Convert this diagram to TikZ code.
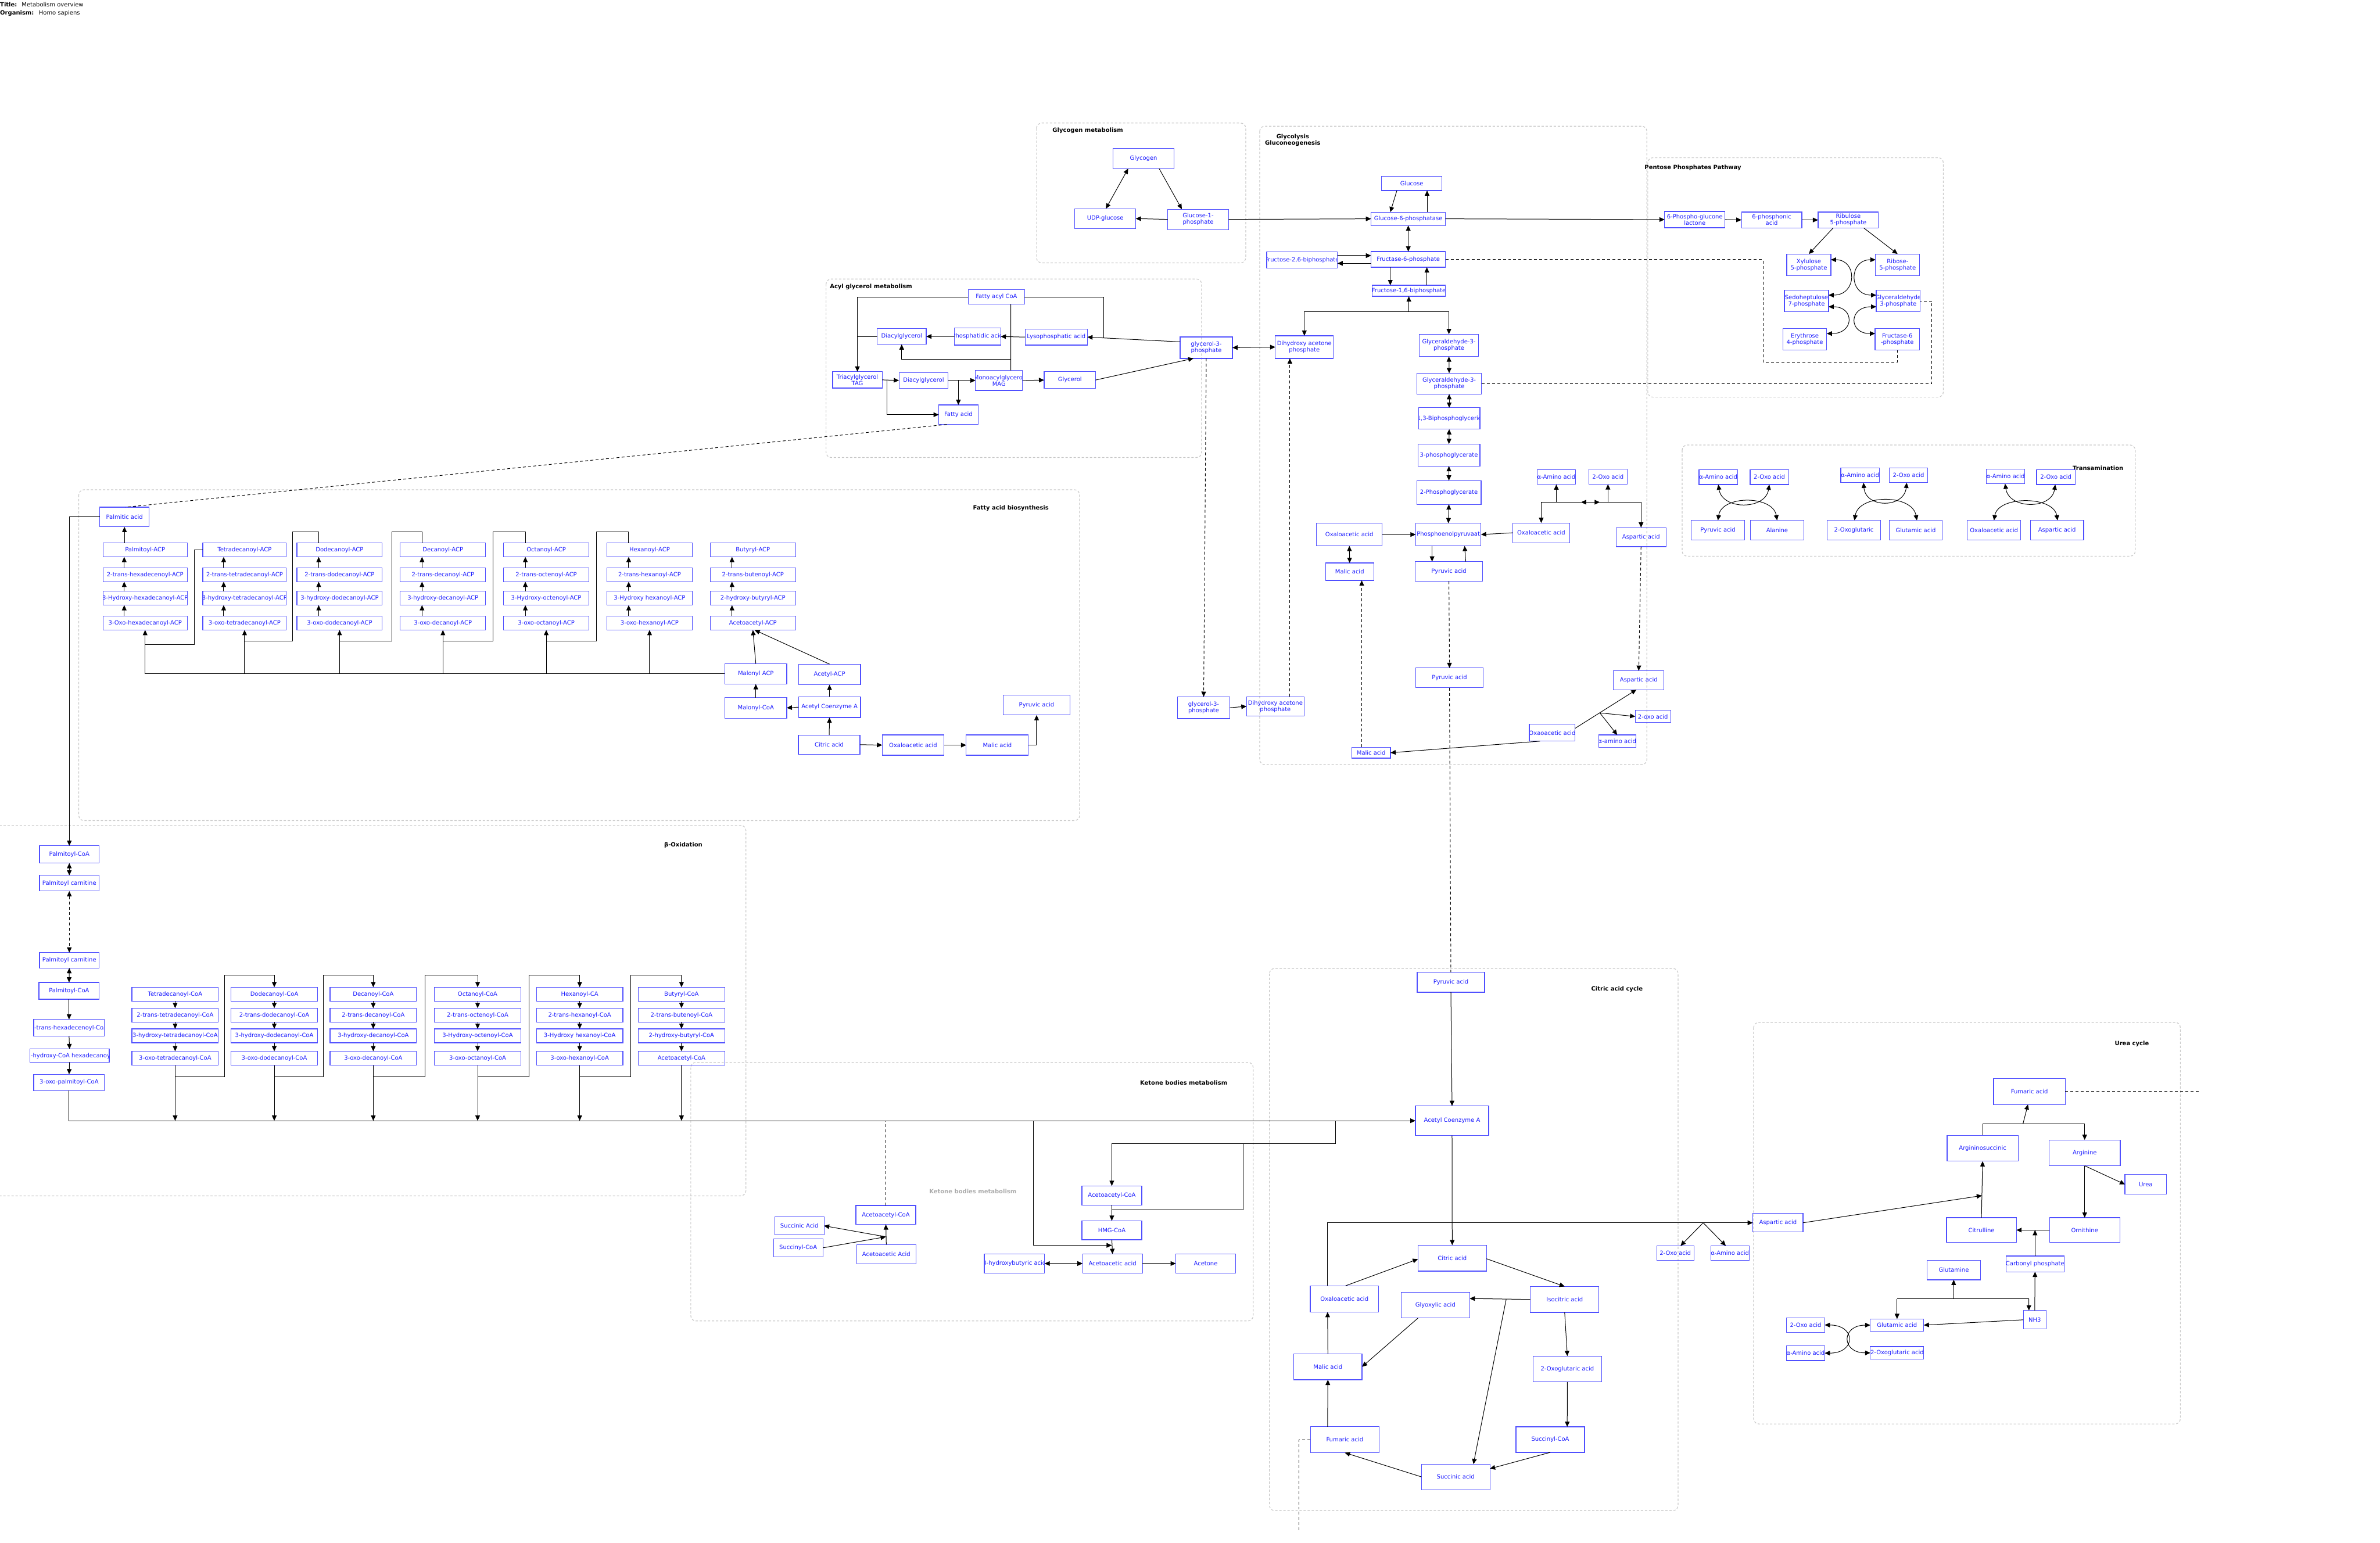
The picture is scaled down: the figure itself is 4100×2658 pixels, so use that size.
\documentclass[tikz,border=0pt]{standalone}
\usepackage{fontspec}
\setmainfont{DejaVu Sans}
\usetikzlibrary{arrows.meta}
\definecolor{bxb}{RGB}{80,80,255}
\definecolor{bxt}{RGB}{25,25,255}
\definecolor{grpc}{RGB}{200,200,200}
\tikzset{
 bx/.style={draw=bxb, line width=1.2pt, inner sep=0pt, outer sep=0pt},
 bxtxt/.style={text=bxt, font=\fontsize{10}{11}\selectfont, align=center, inner sep=0pt},
 grp/.style={draw=grpc, line width=1.2pt, dash pattern=on 4pt off 3pt, rounded corners=9pt},
 ttl/.style={font=\bfseries\fontsize{10}{11}\selectfont, inner sep=0pt, align=center},
 lk/.style={line width=1pt, draw=black},
 arr/.style={-{Triangle[length=9pt,width=8pt]}},
 darr/.style={{Triangle[length=9pt,width=8pt]}-{Triangle[length=9pt,width=8pt]}},
 dsh/.style={dash pattern=on 5pt off 4pt},
}
\newcommand{\bx}[6]{\node[bx, minimum width=#4, minimum height=#5, path picture={\node[bxtxt] at (path picture bounding box.center) {#6};}] (#1) at (#2,#3) {};}
\begin{document}
\begin{tikzpicture}[x=1pt,y=-1pt]
\useasboundingbox (0,0) rectangle (4100,2658);
\clip (0,0) rectangle (4100,2658);
% header
\node[anchor=west, inner sep=0pt, font=\fontsize{10}{11}\selectfont] (hdr1) at (0,7.5) {\textbf{Title:}\hspace{8pt}Metabolism overview};
\node[anchor=west, inner sep=0pt, font=\fontsize{10}{11}\selectfont] (hdr2) at (0,22.7) {\textbf{Organism:}\hspace{8.5pt}Homo sapiens};
% group boxes
\draw[grp] (1785.6,212) rectangle (2146,453);
\draw[grp] (2170,217.4) rectangle (2837,1317.5);
\draw[grp] (2838.6,271.7) rectangle (3347.7,684.3);
\draw[grp] (1423,480.7) rectangle (2070,788.3);
\draw[grp] (135.7,843.8) rectangle (1859.8,1413.9);
\draw[grp] (2897.7,766.7) rectangle (3678.3,958.3);
\draw[grp] (-20,1422) rectangle (1285,2060.4);
\draw[grp] (1190,1830.4) rectangle (2158.8,2276);
\draw[grp] (2186.9,1668.6) rectangle (2890.8,2602.8);
\draw[grp] (3021,1761.5) rectangle (3756,2453.5);
% titles
\node[ttl, anchor=west] (tglg) at (1813,225) {Glycogen metabolism};
\node[ttl] (tgly) at (2227,242) {Glycolysis\\Gluconeogenesis};
\node[ttl, anchor=west] (tppp) at (2833,289.3) {Pentose Phosphates Pathway};
\node[ttl, anchor=west] (tacyl) at (1429.5,494.3) {Acyl glycerol metabolism};
\node[ttl, anchor=west] (tfab) at (1676,875.7) {Fatty acid biosynthesis};
\node[ttl, anchor=east] (ttra) at (3658,806.7) {Transamination};
\node[ttl, anchor=west] (tbox) at (1144,1455.6) {β-Oxidation};
\node[ttl, anchor=west] (tket) at (1963.8,1865.7) {Ketone bodies metabolism};
\node[ttl, anchor=west, text=black!33] (tket2) at (1600.6,2052.3) {Ketone bodies metabolism};
\node[ttl, anchor=west] (tcac) at (2741,1704) {Citric acid cycle};
\node[ttl, anchor=west] (turea) at (3643,1799) {Urea cycle};
% ---------- glycogen
\bx{glycogen}{1970}{273}{105}{35}{Glycogen}
\bx{udpg}{1904}{376.6}{105}{34}{UDP-glucose}
\bx{g1p}{2064}{378}{105}{35}{Glucose-1-\\phosphate}
% ---------- glycolysis
\bx{glucose}{2432}{316}{104}{24.5}{Glucose}
\bx{g6p}{2426}{377}{128}{23}{Glucose-6-phosphatase}
\bx{f26bp}{2243}{448}{122}{28.5}{Fructose-2,6-biphosphate}
\bx{f6p}{2426}{447}{128}{27}{Fructase-6-phosphate}
\bx{f16bp}{2427}{501}{126}{19}{Fructose-1,6-biphosphate}
\bx{dhap}{2247}{598}{100}{39}{Dihydroxy acetone\\phosphate}
\bx{g3p}{2078}{599}{90}{37}{glycerol-3-\\phosphate}
\bx{gap1}{2496}{595}{102}{38.5}{Glyceraldehyde-3-\\phosphate}
\bx{gap2}{2496.5}{661}{111}{36}{Glyceraldehyde-3-\\phosphate}
\bx{bpg}{2496.5}{721}{106}{37}{1,3-Biphosphoglyceric}
\bx{pg3}{2496}{784}{107}{38}{3-phosphoglycerate}
\bx{pg2}{2496}{848.5}{111}{41}{2-Phosphoglycerate}
\bx{oaaL}{2324.5}{921}{113}{39}{Oxaloacetic acid}
\bx{pep}{2495}{921}{112.5}{39}{Phosphoenolpyruvaat}
\bx{oaaR}{2655}{918}{97.5}{34}{Oxaloacetic acid}
\bx{malL}{2325}{985}{83}{30}{Malic acid}
\bx{pyr1}{2496}{984.6}{116}{34}{Pyruvic acid}
\bx{aaG}{2681}{822}{66.6}{25.3}{α-Amino acid}
\bx{oxoG}{2770}{821.5}{66}{25.7}{2-Oxo acid}
\bx{aspU}{2827}{925.5}{86}{33}{Aspartic acid}
\bx{pyr2}{2497}{1168}{116}{34}{Pyruvic acid}
\bx{aspL}{2823}{1172}{87}{32.6}{Aspartic acid}
\bx{g3pL}{2073.5}{1219.4}{90}{37.5}{glycerol-3-\\phosphate}
\bx{dhapL}{2197}{1217}{99.3}{32.8}{Dihydroxy acetone\\phosphate}
\bx{oxoL}{2847.5}{1234.5}{61}{21}{2-oxo acid}
\bx{oaaX}{2674}{1262.5}{79}{29}{Oxaoacetic acid}
\bx{aaL}{2786}{1277}{63.7}{21.4}{α-amino acid}
\bx{malX}{2362}{1297}{66.6}{18.6}{Malic acid}
% ---------- pentose
\bx{pgl}{2919.6}{378.3}{104}{28}{6-Phospho-glucone\\lactone}
\bx{pga}{3052}{379}{104}{27.4}{6-phosphonic\\acid}
\bx{ru5p}{3184}{379}{104}{27.4}{Ribulose\\5-phosphate}
\bx{xu5p}{3116}{456.5}{76}{37.7}{Xylulose\\5-phosphate}
\bx{r5p}{3269}{456.5}{76}{37.7}{Ribose-\\5-phosphate}
\bx{s7p}{3112}{518.5}{76}{37.7}{Sedoheptulose\\7-phosphate}
\bx{gapP}{3270}{518.5}{75.7}{37.7}{Glyceraldehyde\\3-phosphate}
\bx{e4p}{3109}{584.7}{75.7}{37.3}{Erythrose\\4-phosphate}
\bx{f6pP}{3268.4}{584.7}{76.4}{37.3}{Fructase-6\\-phosphate}
% ---------- acyl glycerol
\bx{facoa}{1716.6}{511.7}{97}{24.7}{Fatty acyl CoA}
\bx{dagU}{1553.3}{579.7}{84.6}{27.3}{Diacylglycerol}
\bx{pa}{1684}{579.8}{79.8}{29.7}{Phosphatidic acid}
\bx{lpa}{1819.6}{580.8}{107}{27.7}{Lysophosphatic acid}
\bx{tag}{1477}{654.5}{85.4}{28.3}{Triacylglycerol\\TAG}
\bx{dagL}{1591}{655.5}{84.6}{27}{Diacylglycerol}
\bx{mag}{1721}{655.5}{81}{34.3}{Monoacylglycerol\\MAG}
\bx{glyc}{1843}{654.8}{88.5}{29}{Glycerol}
\bx{fa}{1651}{714.5}{67.7}{33.7}{Fatty acid}
% ---------- fatty acid biosynthesis
\bx{palm}{214.4}{890.8}{85}{33.8}{Palmitic acid}
\bx{f11}{250}{947.5}{145}{24}{Palmitoyl-ACP}
\bx{f12}{250}{990.3}{145}{24}{2-trans-hexadecenoyl-ACP}
\bx{f13}{250}{1030.7}{145}{24}{3-Hydroxy-hexadecanoyl-ACP}
\bx{f14}{250}{1073.5}{145}{24}{3-Oxo-hexadecanoyl-ACP}
\bx{f21}{421.3}{947.5}{144}{24}{Tetradecanoyl-ACP}
\bx{f22}{421.3}{990.3}{144}{24}{2-trans-tetradecanoyl-ACP}
\bx{f23}{421.3}{1030.7}{144}{24}{3-hydroxy-tetradecanoyl-ACP}
\bx{f24}{421.3}{1073.5}{144}{24}{3-oxo-tetradecanoyl-ACP}
\bx{f31}{585}{947.5}{147}{24}{Dodecanoyl-ACP}
\bx{f32}{585}{990.3}{147}{24}{2-trans-dodecanoyl-ACP}
\bx{f33}{585}{1030.7}{147}{24}{3-hydroxy-dodecanoyl-ACP}
\bx{f34}{585}{1073.5}{147}{24}{3-oxo-dodecanoyl-ACP}
\bx{f41}{763}{947.5}{147}{24}{Decanoyl-ACP}
\bx{f42}{763}{990.3}{147}{24}{2-trans-decanoyl-ACP}
\bx{f43}{763}{1030.7}{147}{24}{3-hydroxy-decanoyl-ACP}
\bx{f44}{763}{1073.5}{147}{24}{3-oxo-decanoyl-ACP}
\bx{f51}{941}{947.5}{147}{24}{Octanoyl-ACP}
\bx{f52}{941}{990.3}{147}{24}{2-trans-octenoyl-ACP}
\bx{f53}{941}{1030.7}{147}{24}{3-Hydroxy-octenoyl-ACP}
\bx{f54}{941}{1073.5}{147}{24}{3-oxo-octanoyl-ACP}
\bx{f61}{1119}{947.5}{147}{24}{Hexanoyl-ACP}
\bx{f62}{1119}{990.3}{147}{24}{2-trans-hexanoyl-ACP}
\bx{f63}{1119}{1030.7}{147}{24}{3-Hydroxy hexanoyl-ACP}
\bx{f64}{1119}{1073.5}{147}{24}{3-oxo-hexanoyl-ACP}
\bx{f71}{1297}{947.5}{147}{24}{Butyryl-ACP}
\bx{f72}{1297}{990.3}{147}{24}{2-trans-butenoyl-ACP}
\bx{f73}{1297}{1030.7}{147}{24}{2-hydroxy-butyryl-ACP}
\bx{f74}{1297}{1073.5}{147}{24}{Acetoacetyl-ACP}
\bx{macp}{1302}{1161}{106.6}{35.4}{Malonyl ACP}
\bx{aacp}{1429}{1162}{107}{35.4}{Acetyl-ACP}
\bx{mcoa}{1302}{1219.7}{106.6}{35.4}{Malonyl-CoA}
\bx{acoaF}{1429}{1218.4}{107}{35.7}{Acetyl Coenzyme A}
\bx{citF}{1428.4}{1283}{106}{33}{Citric acid}
\bx{oaaF}{1573}{1283.8}{106.6}{35}{Oxaloacetic acid}
\bx{malF}{1718}{1283.8}{107}{35}{Malic acid}
\bx{pyrF}{1785.7}{1215}{115.6}{34}{Pyruvic acid}
% ---------- beta oxidation
\bx{pcoa1}{119.4}{1472.2}{102.8}{29.8}{Palmitoyl-CoA}
\bx{pcar1}{119.4}{1521.8}{102.8}{27}{Palmitoyl carnitine}
\bx{pcar2}{119.4}{1654.6}{102.8}{26.6}{Palmitoyl carnitine}
\bx{pcoa2}{119}{1707.2}{103.8}{29}{Palmitoyl-CoA}
\bx{thd}{119}{1771}{122}{29}{2-trans-hexadecenoyl-CoA}
\bx{hhd}{119.8}{1819}{136.8}{22.8}{3-hydroxy-CoA hexadecanoyl}
\bx{opal}{119}{1865}{122}{28}{3-oxo-palmitoyl-CoA}
\bx{b11}{301.7}{1713}{149}{24}{Tetradecanoyl-CoA}
\bx{b12}{301.7}{1749}{149}{24}{2-trans-tetradecanoyl-CoA}
\bx{b13}{301.7}{1784.7}{149}{24}{3-hydroxy-tetradecanoyl-CoA}
\bx{b14}{301.7}{1823.3}{149}{24}{3-oxo-tetradecanoyl-CoA}
\bx{b21}{472.5}{1713}{149}{24}{Dodecanoyl-CoA}
\bx{b22}{472.5}{1749}{149}{24}{2-trans-dodecanoyl-CoA}
\bx{b23}{472.5}{1784.7}{149}{24}{3-hydroxy-dodecanoyl-CoA}
\bx{b24}{472.5}{1823.3}{149}{24}{3-oxo-dodecanoyl-CoA}
\bx{b31}{643}{1713}{149}{24}{Decanoyl-CoA}
\bx{b32}{643}{1749}{149}{24}{2-trans-decanoyl-CoA}
\bx{b33}{643}{1784.7}{149}{24}{3-hydroxy-decanoyl-CoA}
\bx{b34}{643}{1823.3}{149}{24}{3-oxo-decanoyl-CoA}
\bx{b41}{822.8}{1713}{149}{24}{Octanoyl-CoA}
\bx{b42}{822.8}{1749}{149}{24}{2-trans-octenoyl-CoA}
\bx{b43}{822.8}{1784.7}{149}{24}{3-Hydroxy-octenoyl-CoA}
\bx{b44}{822.8}{1823.3}{149}{24}{3-oxo-octanoyl-CoA}
\bx{b51}{998.6}{1713}{149}{24}{Hexanoyl-CA}
\bx{b52}{998.6}{1749}{149}{24}{2-trans-hexanoyl-CoA}
\bx{b53}{998.6}{1784.7}{149}{24}{3-Hydroxy hexanoyl-CoA}
\bx{b54}{998.6}{1823.3}{149}{24}{3-oxo-hexanoyl-CoA}
\bx{b61}{1174}{1713}{149}{24}{Butyryl-CoA}
\bx{b62}{1174}{1749}{149}{24}{2-trans-butenoyl-CoA}
\bx{b63}{1174}{1784.7}{149}{24}{2-hydroxy-butyryl-CoA}
\bx{b64}{1174}{1823.3}{149}{24}{Acetoacetyl-CoA}
% ---------- ketone bodies
\bx{succA}{1377}{2112}{85}{31}{Succinic Acid}
\bx{succC}{1375}{2150}{85}{31.4}{Succinyl-CoA}
\bx{aacoaL}{1526}{2093.3}{103}{32.7}{Acetoacetyl-CoA}
\bx{aaacid}{1526.8}{2160.8}{102.5}{33}{Acetoacetic Acid}
\bx{aacoaR}{1915.3}{2059.8}{103}{33}{Acetoacetyl-CoA}
\bx{hmg}{1915.3}{2119.7}{103}{32.7}{HMG-CoA}
\bx{hba}{1747.5}{2177}{103.8}{32.7}{3-hydroxybutyric acid}
\bx{aaa}{1916.5}{2177}{103}{32.7}{Acetoacetic acid}
\bx{acetone}{2077}{2177}{103}{32.7}{Acetone}
% ---------- citric acid cycle
\bx{pyrC}{2499.4}{1692.4}{116}{34.3}{Pyruvic acid}
\bx{acoaC}{2501.4}{1931}{126}{51}{Acetyl Coenzyme A}
\bx{citC}{2501.7}{2167.8}{118}{44.7}{Citric acid}
\bx{oaaC}{2316}{2238}{117.6}{45.3}{Oxaloacetic acid}
\bx{glyox}{2472.7}{2248.7}{118}{44.7}{Glyoxylic acid}
\bx{iso}{2695.4}{2238.9}{118}{44.7}{Isocitric acid}
\bx{malC}{2287.5}{2355}{117.6}{44.7}{Malic acid}
\bx{ogC}{2700}{2358.8}{118}{44.7}{2-Oxoglutaric acid}
\bx{fumC}{2316.6}{2480.6}{118}{44.7}{Fumaric acid}
\bx{sucoaC}{2670.6}{2480.4}{118}{44}{Succinyl-CoA}
\bx{sucC}{2507.6}{2544.6}{118}{44}{Succinic acid}
\bx{oxoC}{2886}{2159}{64}{25}{2-Oxo acid}
\bx{aaC}{2980}{2159}{66}{25}{α-Amino acid}
% ---------- urea cycle
\bx{fumU}{3496}{1880.7}{123.3}{44.5}{Fumaric acid}
\bx{argsuc}{3415.4}{1978.5}{122.4}{44.5}{Argininosuccinic}
\bx{arg}{3591.2}{1986.3}{122.8}{44.5}{Arginine}
\bx{urea}{3696.4}{2040.7}{71.6}{34}{Urea}
\bx{aspUr}{3062.8}{2106.8}{86.5}{32.2}{Aspartic acid}
\bx{citr}{3413.4}{2119.4}{120.4}{42.7}{Citrulline}
\bx{orn}{3591.2}{2119.4}{121}{42.7}{Ornithine}
\bx{gln}{3365.7}{2188.3}{92.5}{33.5}{Glutamine}
\bx{cp}{3505.7}{2177.7}{100}{27.1}{Carbonyl phosphate}
\bx{nh3}{3505.2}{2274}{39.3}{32.1}{NH3}
\bx{gluU}{3268}{2283.2}{92}{21.1}{Glutamic acid}
\bx{ogU}{3268}{2331}{92}{21.6}{2-Oxoglutaric acid}
\bx{oxoU}{3110.5}{2283}{65.7}{25.3}{2-Oxo acid}
\bx{aaU}{3110.5}{2331.4}{65.7}{25.7}{α-Amino acid}
% ---------- transamination
\bx{t1aa}{2960}{822}{66.3}{25.7}{α-Amino acid}
\bx{t1oxo}{3048}{822}{66.3}{25.7}{2-Oxo acid}
\bx{t1pyr}{2959.4}{913.5}{91.8}{33.7}{Pyruvic acid}
\bx{t1ala}{3061.4}{913.5}{91.8}{33.7}{Alanine}
\bx{t2aa}{3204.2}{819}{66.3}{25.4}{α-Amino acid}
\bx{t2oxo}{3287.7}{819}{66.3}{25.4}{2-Oxo acid}
\bx{t2og}{3193.6}{913.5}{91.8}{33.7}{2-Oxoglutaric}
\bx{t2glu}{3300.2}{913.5}{91.8}{33.7}{Glutamic acid}
\bx{t3aa}{3455}{820.8}{66.3}{25}{α-Amino acid}
\bx{t3oxo}{3541.6}{822}{66.3}{25.7}{2-Oxo acid}
\bx{t3oaa}{3435}{913.5}{91.8}{33.7}{Oxaloacetic acid}
\bx{t3asp}{3543.6}{913.5}{91.8}{33.7}{Aspartic acid}
% ---------- coordinates
\coordinate (j16) at (2427,537);
\coordinate (jt1) at (2655,865.3);
\coordinate (jt2) at (2827,865.3);
\coordinate (jaa) at (2681,865.3);
\coordinate (jox2) at (2770,865.3);
\coordinate (jtm) at (2739.5,865.3);
\coordinate (jtmL) at (2723.5,865.3);
\coordinate (jtmR) at (2756,865.3);
\coordinate (jox) at (2756,1228.3);
\coordinate (jfa) at (1741.4,619);
\coordinate (jtag) at (1528,654.5);
\coordinate (mlS) at (119,1931);
\coordinate (jk) at (1526,2131);
\coordinate (mk1) at (1780.6,1931);
\coordinate (jh) at (1915.3,2145.7);
\coordinate (mk2) at (2301,1931);
\coordinate (jiso) at (2594.7,2238.5);
\coordinate (jasp) at (2934,2106.8);
\coordinate (fumEnd) at (2238,2640);
\coordinate (ju) at (3485,1936);
\coordinate (jcit) at (3414.2,2060);
\coordinate (jcp) at (3505.7,2119.4);
\coordinate (jgL) at (3268,2237.7);
\coordinate (jgR) at (3495,2237.7);
\coordinate (jgln) at (3365.1,2237.7);
\coordinate (fumUEnd) at (3790,1880.7);
% ---------- glycogen edges
\draw[lk,darr] ([xshift=-26.5]glycogen.south) -- ([xshift=1]udpg.north);
\draw[lk,arr] ([xshift=26.8]glycogen.south) -- ([xshift=-28]g1p.north);
\draw[lk,arr] (g1p.west) -- (udpg.east);
\draw[lk,arr] (g1p.east) -- (g6p.west);
% ---------- glycolysis edges
\draw[lk,arr] ([xshift=-25.6]glucose.south) -- ([xshift=-31]g6p.north);
\draw[lk,arr] ([xshift=32.4]g6p.north) -- ([xshift=26.4]glucose.south);
\draw[lk,darr] (g6p.south) -- (f6p.north);
\draw[lk,arr] ([yshift=7.6]f26bp.east) -- ([yshift=6.6]f6p.west);
\draw[lk,arr] ([yshift=-6.8]f6p.west) -- ([yshift=-5.8]f26bp.east);
\draw[lk,arr] ([xshift=-31]f6p.south) -- ([xshift=-32]f16bp.north);
\draw[lk,arr] ([xshift=31]f16bp.north) -- ([xshift=32]f6p.south);
\draw[lk,arr] (j16) -- (f16bp.south);
\draw[lk,arr] (j16) -| (dhap.north);
\draw[lk,arr] (j16) -| (gap1.north);
\draw[lk,darr] (g3p.east) -- (dhap.west);
\draw[lk,darr] (gap1.south) -- (gap2.north);
\draw[lk,darr] (gap2.south) -- (bpg.north);
\draw[lk,darr] (bpg.south) -- (pg3.north);
\draw[lk,darr] (pg3.south) -- (pg2.north);
\draw[lk,darr] (pg2.south) -- (pep.north);
\draw[lk,arr] (oaaL.east) -- (pep.west);
\draw[lk,darr] (oaaL.south) -- (malL.north);
\draw[lk,arr] (oaaR.west) -- (pep.east);
\draw[lk,arr] ([xshift=-28]pep.south) -- ([xshift=-29]pyr1.north);
\draw[lk,arr] ([xshift=29]pyr1.north) -- ([xshift=28]pep.south);
\draw[lk] (jt1) -- (jt2);
\draw[lk,arr] (jt1) -- (oaaR.north);
\draw[lk,arr] (jt2) -- (aspU.north);
\draw[lk,arr] (jaa) -- (aaG.south);
\draw[lk,arr] (jox2) -- (oxoG.south);
\draw[lk,arr] (jtm) -- (jtmL);
\draw[lk,arr] (jtm) -- (jtmR);
\draw[lk,dsh,arr] (pyr1.south) -- (pyr2.north);
\draw[lk,dsh] (pyr2.south) -- (pyrC.north);
\draw[lk,dsh,arr] (aspU.south) -- (aspL.north);
\draw[lk,dsh,arr] ([xshift=-16.2]malX.north) -- ([xshift=20.8]malL.south);
\draw[lk,dsh,arr] (g3p.south) -- (g3pL.north);
\draw[lk,dsh,arr] ([xshift=25]dhapL.north) -- ([xshift=-25]dhap.south);
\draw[lk,arr] (g3pL.east) -- (dhapL.west);
\draw[lk,arr] ([xshift=-21]oaaX.south) -- (malX.east);
\draw[lk,arr] ([yshift=-6.8]oaaX.north east) -- ([xshift=-4]aspL.south);
\draw[lk,arr] (jox) -- (oxoL.west);
\draw[lk,arr] (jox) -- (aaL.north);
\draw[lk,arr] (g6p.east) -- (pgl.west);
\draw[lk,dsh] (f6p.east) -| (3037,624) -| (f6pP.south);
\draw[lk,dsh] (gap2.east) -| (3328,518.5) -- (gapP.east);
% ---------- pentose edges
\draw[lk,arr] (pgl.east) -- (pga.west);
\draw[lk,arr] (pga.east) -- (ru5p.west);
\draw[lk,arr] ([xshift=-26]ru5p.south) -- (xu5p.north);
\draw[lk,arr] ([xshift=26.6]ru5p.south) -- (r5p.north);
\draw[lk,darr] ([yshift=9]xu5p.east) .. controls (3199.6,447.5) and (3199.6,508.5) .. ([yshift=10]s7p.east);
\draw[lk,darr] ([yshift=-10]s7p.east) .. controls (3194.9,528.5) and (3194.9,575) .. ([yshift=10]e4p.east);
\draw[lk,darr] ([yshift=9]r5p.west) .. controls (3184.2,447.5) and (3184.2,508.5) .. ([yshift=10]gapP.west);
\draw[lk,darr] ([yshift=-10]gapP.west) .. controls (3184.2,528.5) and (3184.2,575) .. ([yshift=10]f6pP.west);
% ---------- acyl glycerol edges
\draw[lk,arr] (facoa.west) -| (tag.north);
\draw[lk] (dagU.west) -- (tag.north |- dagU.west);
\draw[lk] (facoa.east) -| (1901,583);
\draw[lk,arr] ([yshift=10]g3p.west) -- (lpa.east);
\draw[lk,arr] (lpa.west) -- (pa.east);
\draw[lk,arr] (pa.west) -- (dagU.east);
\draw[lk] ([xshift=24.8]facoa.south) -- ([xshift=20.4]mag.north);
\draw[lk,arr] (jfa) -| (dagU.south);
\draw[lk,arr] (tag.east) -- (dagL.west);
\draw[lk,arr] (jtag) |- (fa.west);
\draw[lk,arr] (dagL.east) -- (mag.west);
\draw[lk,arr] (dagL.east -| fa.north) -- (fa.north);
\draw[lk,arr] (mag.east) -- (glyc.west);
\draw[lk,arr] (glyc.east) -- ([xshift=-22]g3p.south);
\draw[lk,dsh] ([xshift=-20]fa.south) -- ([xshift=1.6]palm.north);
% ---------- fatty acid biosynthesis edges
\draw[lk,arr] ([xshift=-35.6]f11.north) -- (palm.south);
\foreach \c in {1,...,7}{
  \draw[lk,arr] ([xshift=-36]f\c4.north) -- ([xshift=-36]f\c3.south);
  \draw[lk,arr] ([xshift=-36]f\c3.north) -- ([xshift=-36]f\c2.south);
  \draw[lk,arr] ([xshift=-36]f\c2.north) -- ([xshift=-36]f\c1.south);
}
\draw[lk] (f14.south |- macp.west) -- (macp.west);
\foreach \c in {1,...,6}{
  \draw[lk,arr] (f\c4.south |- macp.west) -- (f\c4.south);
}
\draw[lk] (f21.west) -- (335,947.5) -- (335,1111) -- (250,1111);
\foreach \c/\xm/\tx in {3/503.7/421.3, 4/675.3/585, 5/849.2/763, 6/1027/941}{
  \draw[lk] ([xshift=-36]f\c1.north) |- (\xm,916) -- (\xm,1105) -- (\tx,1105);
}
\draw[lk,arr] (macp.north) -- (f74.south);
\draw[lk,arr] (aacp.north) -- ([xshift=3]f74.south);
\draw[lk,arr] (mcoa.north) -- (macp.south);
\draw[lk,arr] (acoaF.north) -- (aacp.south);
\draw[lk,arr] (acoaF.west) -- (mcoa.east);
\draw[lk,arr] (citF.north) -- (acoaF.south);
\draw[lk,arr] (citF.east) -- (oaaF.west);
\draw[lk,arr] (oaaF.east) -- (malF.west);
\draw[lk,arr] (malF.east) -| (pyrF.south);
\draw[lk,arr] (palm.west) -| (pcoa1.north);
% ---------- beta oxidation edges
\draw[lk,darr] (pcoa1.south) -- (pcar1.north);
\draw[lk,dsh,darr] (pcar1.south) -- (pcar2.north);
\draw[lk,darr] (pcar2.south) -- (pcoa2.north);
\draw[lk,arr] (pcoa2.south) -- (thd.north);
\draw[lk,arr] (thd.south) -- (hhd.north);
\draw[lk,arr] (hhd.south) -- (opal.north);
\draw[lk,arr] (opal.south) |- (acoaC.west);
\foreach \c in {1,...,6}{
  \draw[lk,arr] (b\c1.south) -- (b\c2.north);
  \draw[lk,arr] (b\c2.south) -- (b\c3.north);
  \draw[lk,arr] (b\c3.south) -- (b\c4.north);
  \draw[lk,arr] (b\c4.south) -- (b\c4.south |- mlS);
}
\foreach \c/\n/\xm/\tx in {1/2/387.1/472.5, 2/3/557/643, 3/4/732/822.8, 4/5/911/998.6, 5/6/1086.8/1174}{
  \draw[lk,arr] (b\c4.south) |- (\xm,1855.2) |- (\tx,1680.3) -- (b\n1.north);
}
% ---------- ketone edges
\draw[lk,arr] (aaacid.north) -- (aacoaL.south);
\draw[lk,arr] (succC.east) -- (jk);
\draw[lk,arr] (jk) -- (succA.east);
\draw[lk,dsh] (aacoaL.north) -- (aacoaL.north |- mlS);
\draw[lk,arr] (mk1) |- (jh);
\draw[lk,arr] (hmg.south) -- (aaa.north);
\draw[lk,arr] (mk2) -- (2301,1970.7) -| (aacoaR.north);
\draw[lk] (2141.9,1970.7) |- (1915.3,2085);
\draw[lk,arr] (aacoaR.south) -- (hmg.north);
\draw[lk,darr] (hba.east) -- (aaa.west);
\draw[lk,arr] (aaa.east) -- (acetone.west);
% ---------- citric acid cycle edges
\draw[lk,arr] (pyrC.south) -- (acoaC.north);
\draw[lk,arr] (acoaC.south) -- (citC.north);
\draw[lk,arr] ([xshift=2]oaaC.north) -- ([yshift=-1.6]citC.west);
\draw[lk,arr] ([yshift=-1]citC.east) -- (iso.north);
\draw[lk,arr] (iso.west) -- ([yshift=11.4]glyox.east);
\draw[lk,arr] (jiso) -- ([xshift=30.6]sucC.north);
\draw[lk,arr] (iso.south) -- (ogC.north);
\draw[lk,arr] (ogC.south) -- ([xshift=29.2]sucoaC.north);
\draw[lk,arr] (sucoaC.south) -- ([yshift=14]sucC.east);
\draw[lk,arr] (sucC.west) -- (fumC.south);
\draw[lk,arr] ([xshift=-29.6]fumC.north) -- (malC.south);
\draw[lk,arr] (malC.north) -- ([xshift=-29]oaaC.south);
\draw[lk,arr] ([xshift=-30]glyox.south) -- (malC.east);
\draw[lk,arr] ([xshift=-29]oaaC.north) |- (aspUr.west);
\draw[lk,arr] (jasp) -- ([xshift=9]oxoC.north);
\draw[lk,arr] (jasp) -- ([xshift=-7]aaC.north);
\draw[lk,dsh] (fumC.west) -| (fumEnd);
% ---------- urea edges
\draw[lk,arr] (argsuc.north) |- (ju) -| (arg.north);
\draw[lk,arr] (ju) -- ([xshift=-2.5]fumU.south);
\draw[lk,arr] (aspUr.east) -- (jcit);
\draw[lk,arr] (citr.north) -- (argsuc.south);
\draw[lk,arr] (arg.south) -- (orn.north);
\draw[lk,arr] (arg.south) -- (urea.west);
\draw[lk,arr] (orn.west) -- (citr.east);
\draw[lk,arr] (cp.north) -- (jcp);
\draw[lk,arr] (nh3.north) -- (cp.south);
\draw[lk,arr] (nh3.west) -- (gluU.east);
\draw[lk] (jgL) -- (jgR);
\draw[lk,arr] (jgln) -- (gln.south);
\draw[lk,arr] (jgL) -- (gluU.north);
\draw[lk,arr] (jgR) -- ([xshift=-10]nh3.north);
\draw[lk,darr] (oxoU.east) .. controls (3197.6,2283) and (3197.6,2331.4) .. (aaU.east);
\draw[lk,darr] (gluU.west) .. controls (3171.4,2283.2) and (3171.4,2331) .. (ogU.west);
\draw[lk,dsh] (fumU.east) -- (fumUEnd);
% ---------- transamination edges
\draw[lk,darr] (t1aa.south) .. controls (2967,879) and (3041,879) .. (t1oxo.south);
\draw[lk,darr] (t1pyr.north) .. controls (2966,853) and (3054,853) .. (t1ala.north);
\draw[lk,darr] ([xshift=6]t2aa.south) .. controls (3214,876) and (3280,876) .. ([xshift=-3]t2oxo.south);
\draw[lk,darr] ([xshift=1]t2og.north) .. controls (3202,851) and (3294,851) .. ([xshift=2]t2glu.north);
\draw[lk,darr] ([xshift=-1]t3aa.south) .. controls (3461,878) and (3534,878) .. ([xshift=-1]t3oxo.south);
\draw[lk,darr] (t3oaa.north) .. controls (3442,854) and (3537,854) .. ([xshift=1]t3asp.north);
\end{tikzpicture}
\end{document}
